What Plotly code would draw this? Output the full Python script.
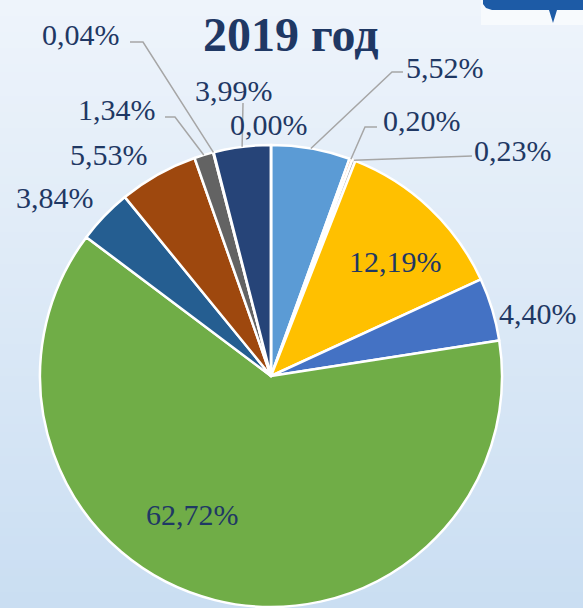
import math
import plotly.graph_objects as go

# ---------------- data ----------------
categories = [f"Категория {i}" for i in range(1, 13)]
values = [5.52, 0.20, 0.23, 12.19, 4.40, 62.72, 3.84, 5.53, 1.34, 0.04, 3.99, 0.00]
colors = ["#5B9BD5", "#ED7D31", "#A5A5A5", "#FFC000", "#4472C4", "#70AD47",
          "#255E91", "#9E480E", "#636363", "#997300", "#264478", "#43682B"]
title_text = "2019 год"

# ---------------- layout helpers ----------------
W, H = 583, 608
CX, CY, R = 271, 376, 231          # pie centre / radius in px


def px(x, y):
    return x / W, 1 - y / H


TEXT_COLOR = "#1F3864"
FONT = "Liberation Serif"

# label centres (px) for each slice
label_xy = [(445, 67), (422, 120), (513, 150), (395, 261), (538, 313), (192, 514),
            (55, 198), (109, 155), (117, 109), (81, 35), (234, 90), (269, 125)]
# leader line elbows (px), from label side toward slice
leaders = {
    0: [(403, 72), (392, 72)],
    1: [(377, 127), (365, 127)],
    2: [(472, 156)],
    8: [(165, 117), (175, 117)],
    9: [(130, 42), (143, 42)],
    10: [(243, 103)],
}

fig = go.Figure()

# background gradient bands
top = (0xEE, 0xF4, 0xFB)
bot = (0xCA, 0xDE, 0xF2)
nb = 76
shapes = []
for i in range(nb):
    t = i / (nb - 1)
    c = tuple(round(top[k] + (bot[k] - top[k]) * t) for k in range(3))
    y0 = i * H / nb
    y1 = (i + 1) * H / nb + 1
    shapes.append(dict(type="rect", xref="paper", yref="paper", layer="below",
                       x0=0, x1=1, y0=max(0, 1 - y1 / H), y1=1 - y0 / H,
                       fillcolor="rgb(%d,%d,%d)" % c, line=dict(width=0)))

# logo fragment top-right
shapes.append(dict(type="rect", xref="paper", yref="paper", layer="below",
                   x0=481 / W, x1=1, y0=1 - 25 / H, y1=1,
                   fillcolor="#F7FAFD", line=dict(width=0)))


def pth(points, close=True):
    s = ""
    for i, (x, y) in enumerate(points):
        xp, yp = px(x, y)
        s += ("M" if i == 0 else "L") + f"{xp:.5f},{yp:.5f} "
    return s + ("Z" if close else "")


logo = [(483, 0), (583, 0), (583, 10), (557, 10), (553, 23), (549, 10),
        (492, 10), (486, 8), (483, 4)]
shapes.append(dict(type="path", xref="paper", yref="paper", layer="below",
                   path=pth(logo), fillcolor="#1D5BA6", line=dict(width=0)))

# pie
fig.add_trace(go.Pie(
    labels=categories, values=values, sort=False, direction="clockwise",
    rotation=0, textinfo="none", hoverinfo="label+percent",
    marker=dict(colors=colors, line=dict(color="white", width=2.5)),
    domain=dict(x=[(CX - R) / W, (CX + R) / W], y=[1 - (CY + R) / H, 1 - (CY - R) / H]),
    showlegend=False,
))

# leader lines computed from slice mid-angles
total = sum(values)
cum = 0
mids = []
for v in values:
    mids.append((cum + v / 2) / total * 2 * math.pi)
    cum += v

for idx, elbow in leaders.items():
    a = mids[idx]
    ex = CX + R * math.sin(a)
    ey = CY - R * math.cos(a)
    pts = elbow + [(ex, ey)]
    shapes.append(dict(type="path", xref="paper", yref="paper", layer="above",
                       path=pth(pts, close=False),
                       line=dict(color="#A6A6A6", width=1.5)))

annotations = []
for v, (x, y) in zip(values, label_xy):
    xp, yp = px(x, y)
    annotations.append(dict(x=xp, y=yp, xref="paper", yref="paper",
                            text=f"{v:.2f}".replace(".", ",") + "%",
                            showarrow=False, xanchor="center", yanchor="middle",
                            font=dict(family=FONT, size=30, color=TEXT_COLOR)))

tx, ty = px(291, 35)
annotations.append(dict(x=tx, y=ty, xref="paper", yref="paper",
                        text=f"<b>{title_text}</b>", showarrow=False,
                        xanchor="center", yanchor="middle",
                        font=dict(family=FONT, size=48, color=TEXT_COLOR)))

fig.update_layout(width=W, height=H, margin=dict(l=0, r=0, t=0, b=0),
                  paper_bgcolor="#E2ECF7", plot_bgcolor="rgba(0,0,0,0)",
                  shapes=shapes, annotations=annotations)

fig.write_html("out.html", config={"displayModeBar": False},
               post_script="document.body.style.margin='0';")
